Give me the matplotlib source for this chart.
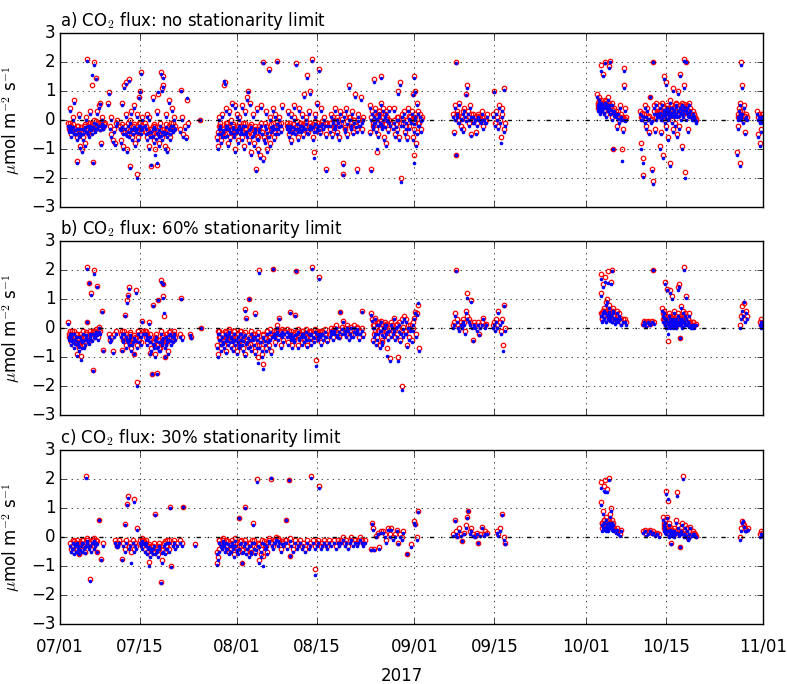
"""CO2 flux time series under three stationarity limits (Jul-Oct 2017)."""

import datetime as dt
import numpy as np
import matplotlib
matplotlib.use('Agg')
import matplotlib.pyplot as plt
import matplotlib.dates as mdates


START = dt.datetime(2017, 7, 1)
END = dt.datetime(2017, 11, 1)

TITLES = [
    'a) CO$_2$ flux: no stationarity limit',
    'b) CO$_2$ flux: 60% stationarity limit',
    'c) CO$_2$ flux: 30% stationarity limit',
]

# days since 07/01 and flux (umol m-2 s-1), red = open circles, blue = dots
t_a = [
    1.4, 1.5, 1.7, 1.9, 2.0, 2.2, 2.4, 2.5, 2.7, 2.9,
    3.0, 3.1, 3.3, 3.4, 3.5, 3.7, 3.8, 4.0, 4.2, 4.3,
    4.5, 4.6, 4.7, 4.9, 5.1, 5.2, 5.4, 5.6, 5.6, 5.7,
    5.9, 6.0, 6.1, 6.3, 6.4, 6.6, 6.8, 7.0, 7.2, 7.4,
    7.6, 7.8,
    8.4, 8.6, 8.7, 8.9, 9.0, 9.2, 9.4, 9.6, 9.8, 10.0,
    10.5, 10.7, 10.8, 11.0, 11.2, 11.3, 11.5, 11.6, 11.8, 12.0,
    12.1, 12.3, 12.4, 12.6, 12.8, 12.9, 13.1, 13.3, 13.4, 13.4,
    13.6, 13.8, 13.9, 14.0, 14.1, 14.2, 14.3, 14.4, 11.9, 12.2,
    14.9, 15.0, 15.2, 15.3, 15.5, 15.6, 15.8, 16.0, 16.1, 16.3,
    16.4, 16.6, 16.7, 16.9, 17.0, 17.1, 17.2, 17.4, 17.5, 17.6,
    17.8, 17.9, 18.0, 18.1, 18.2, 18.4, 18.5, 18.7, 18.8, 19.0,
    19.1, 19.3, 19.4, 19.6, 19.7, 19.9, 20.1, 16.2, 17.3, 18.3,
    21.0, 21.2, 21.4, 21.6, 21.8, 22.0, 22.2, 22.4, 24.5,
    27.5, 27.6, 27.8, 27.9, 28.1, 28.2, 28.4, 28.5, 28.7, 28.8,
    28.9, 29.1, 29.2, 29.4, 29.5, 29.7, 29.8, 30.0, 30.1, 30.3,
    30.4, 30.6, 30.7, 30.9, 31.0, 31.2, 31.3, 31.5, 28.0, 29.0,
    31.6, 31.8, 31.9, 32.1, 32.2, 32.4, 32.5, 32.7, 32.9, 33.0,
    33.2, 33.3, 33.5, 33.6, 33.8, 33.9, 34.1, 34.3, 34.4, 34.6,
    34.7, 34.9, 35.0, 35.2, 35.3, 35.5, 35.6, 35.8, 35.9, 36.1,
    36.2, 36.4, 36.5, 36.7, 36.8, 37.0, 37.2, 37.4, 37.6, 37.8,
    38.0, 38.1, 38.3, 38.6, 38.9,
    39.7, 39.9, 40.0, 40.2, 40.4, 40.5, 40.7, 40.9, 41.0, 41.2,
    41.3, 41.5, 41.7, 41.8, 42.0, 42.2, 42.4, 42.5, 42.7, 42.9,
    43.0, 43.2, 43.4, 43.6, 43.8, 44.0, 44.1, 44.3, 44.4, 44.6,
    44.8, 45.0, 45.1, 45.3, 45.5, 45.7, 46.0, 46.2, 46.5, 46.7,
    46.5, 47.2, 47.4, 47.6, 47.8, 48.0, 48.2, 48.4, 48.6, 48.8,
    49.0, 49.2, 49.5, 49.5, 49.7, 49.9, 50.1, 50.3, 50.5, 50.7,
    50.9, 51.1, 51.3, 51.5, 51.7, 51.9, 52.0, 52.2, 52.4, 52.6,
    52.8, 53.0, 48.1, 51.0,
    54.2, 54.3, 54.5, 54.6, 54.8, 54.9, 55.0, 55.1, 55.3, 55.4,
    55.5, 55.7, 55.8, 56.0, 56.1, 56.2, 56.4, 56.5, 56.7, 56.8,
    57.0, 57.1, 57.3, 57.4, 57.6, 57.7, 55.2, 55.9, 56.3, 56.9,
    58.3, 58.5, 58.7, 58.9, 59.0, 59.2, 59.4, 59.5, 59.7, 59.8,
    60.0, 60.2, 60.4, 60.5, 60.7, 60.9, 61.1, 61.3, 61.6, 61.7,
    61.8, 61.9, 62.0, 62.0, 62.1, 62.2, 62.3, 62.4, 62.5, 62.6,
    62.8, 63.0, 63.1, 63.3,
    68.8, 69.0, 69.2, 69.3, 69.3, 69.5, 69.7, 69.9, 70.1, 70.3,
    70.5, 70.7, 70.9, 71.0, 71.2, 71.4, 71.6, 71.8, 72.0, 72.2,
    72.4, 72.6, 72.8, 73.0, 73.2, 73.4, 73.6, 73.8, 74.0, 74.2,
    74.5, 74.7,
    75.8, 76.0, 76.1, 76.3, 76.5, 76.6, 76.8, 77.0, 77.1, 77.3,
    77.4, 77.6, 77.7, 77.9,
    94.0, 94.1, 94.2, 94.3, 94.4, 94.5, 94.6, 94.7, 94.8, 94.9,
    95.0, 95.1, 95.2, 95.3, 95.4, 95.5, 95.6, 95.7, 95.8, 95.9,
    96.0, 96.1, 96.2, 96.3, 96.5, 96.6, 96.8, 97.0, 97.2, 97.4,
    97.6, 97.8, 98.0, 98.2, 98.4, 98.5, 98.6, 98.7, 98.9, 99.1,
    101.5, 101.7, 101.8, 102.0, 102.0, 102.2, 102.4, 102.5, 102.7, 102.9,
    103.0, 103.2, 103.4, 103.5, 103.7, 103.8, 103.9, 104.0, 104.1, 104.2,
    104.3, 104.5,
    104.8, 104.9, 105.0, 105.1, 105.2, 105.3, 105.4, 105.5, 105.6, 105.7,
    105.8, 105.9, 106.0, 106.1, 106.2, 106.3, 106.4, 106.5, 106.6, 106.7,
    106.8, 106.9, 107.0, 107.1, 107.2, 107.3, 107.4, 107.5, 107.6, 107.7,
    107.8, 107.9, 108.0, 108.1, 108.2, 108.3, 108.4, 108.5, 108.6, 108.7,
    108.8, 108.9, 109.0, 109.1, 109.2, 109.3, 109.4, 109.5, 109.6, 109.7,
    109.8, 109.9, 110.0, 110.1, 110.3, 110.5, 110.7, 110.9, 111.1, 111.3,
    118.5, 118.6, 118.7, 118.8, 118.9, 119.0, 119.1, 119.2, 119.3, 119.4,
    119.6, 119.8, 120.0, 120.2,
    122.0, 122.1, 122.3, 122.4, 122.6, 122.7, 122.9, 123.0,
]
red_a = [
    -0.1, -0.3, 0.4, -0.2, -0.5, 0.1, -0.3, 0.7, -0.4, -0.6,
    -1.4, -0.2, -0.5, 0.2, -0.9, -0.4, -1.0, -0.6, -0.2, -0.8,
    0.1, -0.3, 2.1, -0.1, -0.5, 0.3, -0.2, 1.2, -0.4, -1.45,
    0.0, 2.0, -0.3, 1.45, 0.3, -0.1, 0.5, 0.6, -0.8, 0.1,
    -0.2, -0.1,
    0.6, 0.95, -0.2, -0.5, 0.1, -0.7, -0.3, -0.8, -0.1, 0.0,
    -0.2, -0.7, 0.6, -0.9, 1.2, -0.4, 1.3, 0.2, -1.0, 1.4,
    -0.5, -1.6, 0.3, -0.6, -0.2, 0.5, -0.8, -0.3, -1.85, 0.2,
    -0.6, 0.8, -0.1, 1.0, 1.65, -0.4, 0.1, -0.2, -0.3, 0.0,
    -0.1, -0.4, 0.2, -0.6, -0.9, 0.1, -0.3, -1.6, -0.5, 0.8,
    -0.7, -0.2, -1.0, 0.3, -1.55, -0.4, 0.9, -0.8, -0.1, 1.65,
    -0.6, 1.1, 1.2, 1.5, -0.3, -0.9, 0.2, -0.5, -1.0, -0.2,
    0.7, -0.6, -0.1, 0.4, -0.3, 0.1, -0.2, -0.2, -0.5, -0.4,
    -0.3, 1.05, 0.1, -0.5, -0.2, -0.6, 0.7, -0.1, 0.0,
    -0.6, -0.9, -0.2, 0.1, -0.4, -0.7, 0.2, -0.3, 1.2, 1.3,
    -0.5, 0.4, -0.1, -0.8, 0.3, -0.3, -0.6, 0.0, 0.6, -0.2,
    -0.5, 0.5, -1.0, -0.3, 0.2, -0.7, 0.1, -0.4, -0.1, -0.2,
    -0.3, 0.5, -0.6, -0.1, -0.9, 0.3, -0.4, 0.8, 1.0, -0.7,
    -0.2, 0.6, -1.1, -0.5, 0.2, -0.8, -0.3, -1.7, 0.4, -0.6,
    -1.0, -0.2, -1.2, 0.5, -0.4, 2.0, -1.3, -0.1, -0.7, 0.3,
    -1.0, -0.5, 1.75, 0.1, -0.8, -0.3, 0.4, -0.6, 0.2, -0.2,
    2.05, -0.4, 0.1, -0.3, 0.5,
    -0.2, 0.3, -0.5, -0.1, 0.2, -0.7, -0.3, 0.1, 0.5, -0.4,
    1.95, -0.2, -0.6, 0.4, -0.1, -0.3, 0.2, -0.5, 0.9, -0.2,
    0.1, 1.55, -0.4, 0.3, 1.0, -0.2, 2.1, -0.6, -1.1, 0.2,
    -0.3, 0.6, -0.1, 1.75, -0.4, 0.4, -0.2, 0.1, -0.5, -0.1,
    -1.7, -0.3, 0.2, -0.5, 0.1, -0.2, 0.4, -0.4, 0.0, -0.6,
    0.3, -0.1, -1.5, -1.85, 0.2, -0.3, 0.4, -0.5, 1.2, 0.1,
    -0.2, 0.3, -0.4, 0.0, 0.9, -0.3, -1.7, 0.2, -0.1, 0.8,
    -0.3, 0.1, -0.1, -0.2,
    0.5, -0.4, -1.7, 0.3, -0.1, 0.2, 1.4, 0.4, -0.3, -1.1,
    0.1, -0.5, 0.3, 0.0, 1.5, 0.6, -0.2, 0.4, -0.6, 0.2,
    -0.8, 0.3, 0.1, -0.3, 0.4, -0.1, 0.0, 0.3, -0.1, 0.2,
    -0.2, 0.4, -0.5, 0.1, -0.3, 1.0, -0.6, 1.3, -2.0, 0.2,
    -0.1, 0.3, -0.4, 0.0, -0.6, 0.4, -0.2, 0.1, 0.3, -0.6,
    0.9, -0.3, -1.2, 1.5, 1.0, 0.2, -0.8, 0.6, -0.4, 0.3,
    -0.1, 0.2, -0.3, 0.1,
    0.2, -0.4, 0.5, 2.0, -1.2, 0.3, 0.0, 0.6, -0.2, 0.1,
    -0.3, 0.4, 0.2, 0.9, 1.2, 0.3, -0.1, 0.5, -0.5, 0.2,
    0.0, 0.1, -0.4, -0.1, 0.2, 0.1, 0.0, 0.3, -0.2, 0.1,
    0.0, 0.2,
    0.2, 1.0, -0.1, 0.3, 0.1, -0.2, 0.5, 0.0, -0.6, 0.4,
    0.2, -0.3, 1.1, -0.1,
    0.9, 0.6, 0.4, 0.8, 0.5, 0.3, 1.9, 0.7, 0.4, 0.6,
    1.6, 0.5, 0.3, 2.0, 0.7, 0.6, 0.2, 0.5, 0.4, 0.8,
    1.85, 0.5, 2.05, 0.3, 0.6, 0.1, -1.0, 0.4, 0.2, -0.2,
    0.3, 0.0, 0.5, 0.1, -1.0, -0.3, 1.8, 1.2, 0.4, 0.1,
    0.3, -0.8, 0.1, -1.3, -1.9, 0.2, 0.5, -0.2, 0.4, 0.1,
    -0.4, 0.8, 0.0, -1.7, -2.1, 2.0, 0.5, 0.3, -0.3, 0.6,
    0.1, 0.2,
    0.3, -0.9, 0.5, 0.1, -0.4, 0.6, 0.2, -1.2, 0.4, 1.5,
    0.0, 0.3, 1.3, -0.2, 0.5, 0.1, -0.6, 0.4, 0.2, 0.7,
    -1.5, 0.3, 0.0, 0.5, -0.3, 1.1, 0.2, 0.4, -0.1, 0.6,
    0.3, -0.5, 0.2, 1.0, 0.4, -0.2, 0.5, 1.6, 0.1, 0.3,
    -0.9, 0.6, 0.2, 1.2, 2.1, -1.8, 0.4, 2.0, 0.1, 0.5,
    0.3, -0.3, 0.6, 0.2, 0.4, 0.1, 0.3, 0.2, 0.1, 0.0,
    -1.1, 0.2, -0.2, 0.4, -1.5, 0.6, 0.1, 2.0, 0.3, 1.2,
    0.5, -0.4, 0.2, 0.1,
    0.3, -0.5, 0.2, -0.8, 0.1, -0.3, 0.2, 0.0,
]
blue_a = [
    -0.2, -0.4, 0.3, -0.3, -0.6, 0.0, -0.5, 0.6, -0.5, -0.7,
    -1.5, -0.3, -0.6, 0.1, -0.95, -0.5, -1.1, -0.7, -0.3, -0.9,
    0.0, -0.4, 2.05, -0.2, -0.6, 0.2, -0.3, 1.55, -0.5, -1.5,
    -0.1, 1.9, -0.4, 1.4, 0.2, -0.2, 0.4, 0.55, -0.85, 0.0,
    -0.3, -0.2,
    0.5, 0.9, -0.3, -0.6, 0.0, -0.75, -0.4, -0.85, -0.2, -0.1,
    -0.3, -0.8, 0.5, -1.0, 1.1, -0.5, 1.25, 0.1, -1.1, 1.35,
    -0.6, -1.65, 0.2, -0.7, -0.3, 0.4, -0.9, -0.4, -2.0, 0.1,
    -0.7, 0.75, -0.2, 0.95, 1.6, -0.5, 0.0, -0.3, -0.4, -0.1,
    -0.2, -0.5, 0.1, -0.7, -1.0, 0.0, -0.4, -1.55, -0.6, 0.7,
    -0.8, -0.3, -1.2, 0.2, -1.5, -0.5, 0.95, -0.9, -0.2, 1.6,
    -0.7, 1.0, 1.15, 1.45, -0.4, -1.0, 0.1, -0.6, -1.1, -0.3,
    0.6, -0.7, -0.2, 0.3, -0.4, 0.0, -0.3, -0.3, -0.6, -0.5,
    -0.4, 1.0, 0.0, -0.6, -0.3, -0.65, 0.75, -0.2, 0.0,
    -0.7, -1.0, -0.3, 0.0, -0.5, -0.8, 0.1, -0.4, 1.35, 1.25,
    -0.6, 0.3, -0.2, -0.9, 0.2, -0.4, -0.7, -0.1, 0.5, -0.3,
    -0.6, 0.4, -1.1, -0.4, 0.1, -0.8, 0.0, -0.5, -0.2, -0.3,
    -0.4, 0.4, -0.7, -0.2, -1.0, 0.2, -0.5, 0.7, 0.95, -0.8,
    -0.3, 0.5, -1.2, -0.6, 0.1, -0.9, -0.4, -1.75, 0.3, -0.7,
    -1.1, -0.3, -1.3, 0.4, -0.5, 1.95, -1.4, -0.2, -0.8, 0.2,
    -1.1, -0.6, 1.7, 0.0, -0.9, -0.4, 0.3, -0.7, 0.1, -0.3,
    2.0, -0.5, 0.0, -0.4, 0.4,
    -0.3, 0.2, -0.6, -0.2, 0.1, -0.8, -0.4, 0.0, 0.4, -0.5,
    1.9, -0.3, -0.7, 0.3, -0.2, -0.4, 0.1, -0.6, 0.8, -0.3,
    0.0, 1.45, -0.5, 0.2, 0.9, -0.3, 2.05, -0.7, -1.3, 0.1,
    -0.4, 0.5, -0.2, 1.7, -0.5, 0.3, -0.3, 0.0, -0.6, -0.2,
    -1.75, -0.4, 0.1, -0.6, 0.0, -0.3, 0.3, -0.5, -0.1, -0.7,
    0.2, -0.2, -1.55, -1.9, 0.1, -0.4, 0.3, -0.6, 1.1, 0.0,
    -0.3, 0.2, -0.5, -0.1, 0.8, -0.4, -1.8, 0.1, -0.2, 0.7,
    -0.4, 0.0, -0.2, -0.3,
    0.4, -0.5, -1.75, 0.2, -0.2, 0.1, 1.3, 0.3, -0.4, -1.0,
    0.0, -0.6, 0.2, -0.1, 1.45, 0.5, -0.3, 0.3, -0.7, 0.1,
    -0.9, 0.2, 0.0, -0.4, 0.3, -0.2, -0.1, 0.2, -0.2, 0.1,
    -0.3, 0.3, -0.6, 0.0, -0.4, 0.9, -0.7, 1.2, -2.15, 0.1,
    -0.2, 0.2, -0.5, -0.1, -0.7, 0.3, -0.3, 0.0, 0.2, -0.7,
    0.85, -0.4, -1.5, 1.45, 0.95, 0.1, -0.9, 0.5, -0.5, 0.2,
    -0.2, 0.1, -0.4, 0.0,
    0.1, -0.5, 0.4, 1.95, -1.2, 0.2, -0.1, 0.5, -0.3, 0.0,
    -0.4, 0.3, 0.1, 0.85, 1.1, 0.2, -0.2, 0.4, -0.55, 0.1,
    -0.1, 0.0, -0.5, -0.2, 0.1, 0.0, -0.1, 0.2, -0.3, 0.0,
    -0.1, 0.1,
    0.1, 0.95, -0.2, 0.2, 0.0, -0.3, 0.4, -0.1, -0.8, 0.3,
    0.1, -0.4, 1.05, -0.2,
    0.8, 0.5, 0.3, 0.7, 0.4, 0.2, 1.7, 0.6, 0.3, 0.5,
    1.5, 0.4, 0.2, 1.95, 0.6, 0.5, 0.1, 0.4, 0.3, 0.7,
    1.8, 0.4, 2.0, 0.2, 0.5, 0.0, -1.0, 0.3, 0.1, -0.3,
    0.2, -0.1, 0.4, 0.0, -1.4, -0.4, 1.7, 1.1, 0.3, 0.0,
    0.2, -1.0, 0.0, -1.5, -1.95, 0.1, 0.4, -0.3, 0.3, 0.0,
    -0.5, 0.8, -0.1, -1.75, -2.2, 2.0, 0.4, 0.2, -0.4, 0.5,
    0.0, 0.1,
    0.2, -1.0, 0.4, 0.0, -0.5, 0.5, 0.1, -1.3, 0.3, 1.4,
    -0.1, 0.2, 1.2, -0.3, 0.4, 0.0, -0.7, 0.3, 0.1, 0.6,
    -1.6, 0.2, -0.1, 0.4, -0.4, 1.0, 0.1, 0.3, -0.2, 0.5,
    0.2, -0.6, 0.1, 0.9, 0.3, -0.3, 0.4, 1.5, 0.0, 0.2,
    -1.0, 0.5, 0.1, 1.1, 2.05, -2.0, 0.3, 2.0, 0.0, 0.4,
    0.2, -0.4, 0.5, 0.1, 0.3, 0.0, 0.2, 0.1, 0.0, -0.1,
    -1.2, 0.1, -0.3, 0.3, -1.6, 0.5, 0.0, 1.9, 0.2, 1.1,
    0.4, -0.5, 0.1, 0.0,
    0.2, -0.6, 0.1, -0.9, 0.0, -0.4, 0.1, -0.1,
]
# dense core of each cluster in panel a
t_a_core = [
    1.55, 1.8, 2.1, 2.3, 2.6, 2.8, 3.05, 3.25, 3.55, 3.75,
    3.95, 4.15, 4.4, 4.65, 4.85, 5.05, 5.3, 5.5, 5.8, 6.05,
    6.25, 6.5, 6.7, 6.95, 7.15, 7.35, 7.55, 7.75,
    10.6, 10.9, 11.1, 11.4, 11.7, 11.9, 12.2, 12.5, 12.7, 13.0,
    13.2, 13.5, 13.7, 14.0, 14.2, 14.4,
    15.1, 15.4, 15.7, 15.9, 16.2, 16.5, 16.8, 17.0, 17.3, 17.6,
    17.9, 18.2, 18.5, 18.8, 19.0, 19.2, 19.5, 19.8, 20.0,
    27.7, 28.0, 28.3, 28.6, 29.0, 29.3, 29.6, 29.9, 30.2, 30.5,
    30.8, 31.1, 31.4,
    31.7, 32.0, 32.3, 32.6, 32.8, 33.1, 33.4, 33.7, 34.0, 34.2,
    34.5, 34.8, 35.1, 35.4, 35.7, 36.0, 36.3, 36.6, 36.9, 37.1,
    37.3, 37.5, 37.7, 37.9, 38.2, 38.4, 38.7,
    39.8, 40.1, 40.3, 40.6, 40.8, 41.1, 41.4, 41.6, 41.9, 42.1,
    42.3, 42.6, 42.8, 43.1, 43.3, 43.5, 43.7, 43.9, 44.2, 44.5,
    44.7, 44.9, 45.2, 45.4, 45.6, 45.9, 46.1, 46.4,
    47.3, 47.7, 48.1, 48.5, 48.9, 49.3, 49.8, 50.2, 50.6, 51.0,
    51.4, 51.8, 52.1, 52.5, 52.9,
    54.4, 54.7, 55.0, 55.3, 55.6, 55.9, 56.2, 56.6, 56.9, 57.2, 57.5,
    58.4, 58.8, 59.1, 59.6, 60.1, 60.6, 61.0, 61.4, 61.9, 62.2, 62.7, 63.2,
    69.1, 69.4, 69.8, 70.2, 70.6, 71.1, 71.5, 71.9, 72.3, 72.7,
    73.1, 73.5, 73.9, 74.3,
    94.05, 94.25, 94.45, 94.65, 94.85, 95.05, 95.25, 95.45, 95.65, 95.85,
    96.05, 96.25, 96.45, 96.7, 96.95, 97.3, 97.7, 98.1, 98.45, 98.8,
    101.6, 101.9, 102.3, 102.6, 103.1, 103.6, 104.4,
    104.85, 105.05, 105.25, 105.45, 105.65, 105.85, 106.05, 106.25, 106.45, 106.65,
    106.85, 107.05, 107.25, 107.45, 107.65, 107.85, 108.05, 108.25, 108.45, 108.65,
    108.85, 109.05, 109.25, 109.45, 109.65, 109.85, 110.05, 110.4, 110.8, 111.2,
    118.6, 118.9, 119.2, 119.5, 119.9,
    122.2, 122.5, 122.8,
]
red_a_core = [
    -0.25, -0.1, -0.35, -0.15, -0.3, -0.45, -0.2, -0.35, -0.5, -0.25,
    -0.4, -0.3, -0.15, -0.35, -0.45, -0.2, -0.1, -0.3, -0.15, -0.25,
    -0.05, -0.2, -0.1, -0.3, -0.15, -0.05, -0.25, -0.15,
    -0.3, -0.15, -0.4, -0.2, -0.5, -0.1, -0.35, -0.25, -0.45, -0.15,
    -0.3, -0.2, -0.4, -0.1, -0.3, -0.2,
    -0.2, -0.35, -0.5, -0.3, -0.45, -0.15, -0.6, -0.35, -0.25, -0.5,
    -0.3, -0.4, -0.15, -0.35, -0.2, -0.45, -0.25, -0.1, -0.3,
    -0.4, -0.2, -0.5, -0.3, -0.1, -0.45, -0.25, -0.35, -0.15, -0.4,
    -0.3, -0.2, -0.1,
    -0.2, -0.4, -0.1, -0.3, -0.5, -0.25, -0.15, -0.45, -0.35, -0.2,
    -0.55, -0.3, -0.1, -0.4, -0.6, -0.2, -0.35, -0.5, -0.15, -0.3,
    -0.1, -0.25, -0.4, -0.05, -0.2, -0.15, -0.1,
    -0.1, -0.3, -0.2, -0.4, -0.15, -0.25, -0.05, -0.35, -0.2, -0.1,
    -0.3, -0.15, -0.25, -0.05, -0.35, -0.2, -0.1, -0.25, -0.15, -0.3,
    -0.05, -0.2, -0.1, -0.3, -0.15, -0.05, -0.2, -0.1,
    -0.1, 0.0, -0.2, 0.1, -0.15, 0.05, -0.25, -0.05, 0.1, -0.1,
    0.0, -0.2, 0.05, -0.1, 0.0,
    0.1, -0.2, 0.0, 0.15, -0.1, 0.2, -0.05, 0.1, -0.15, 0.05, 0.0,
    0.0, -0.15, 0.1, -0.1, 0.05, -0.2, 0.15, 0.0, -0.05, 0.1, -0.1, 0.05,
    0.1, 0.2, 0.0, 0.15, 0.3, 0.05, 0.1, 0.2, 0.0, 0.1,
    0.15, 0.05, 0.1, 0.0,
    0.5, 0.7, 0.4, 0.6, 0.45, 0.55, 0.35, 0.65, 0.5, 0.4,
    0.6, 0.3, 0.45, 0.35, 0.25, 0.3, 0.15, 0.2, 0.1, 0.05,
    0.1, 0.25, 0.0, 0.2, 0.15, 0.05, 0.3,
    0.2, 0.35, 0.1, 0.3, 0.45, 0.25, 0.15, 0.4, 0.3, 0.2,
    0.5, 0.35, 0.25, 0.45, 0.3, 0.55, 0.4, 0.25, 0.5, 0.35,
    0.45, 0.3, 0.55, 0.4, 0.35, 0.25, 0.3, 0.2, 0.1, 0.05,
    0.1, 0.3, 0.2, 0.0, 0.15,
    0.1, 0.0, 0.2,
]
blue_a_core = [
    -0.3, -0.2, -0.4, -0.25, -0.35, -0.5, -0.3, -0.45, -0.55, -0.3,
    -0.5, -0.35, -0.25, -0.4, -0.5, -0.3, -0.2, -0.35, -0.25, -0.3,
    -0.15, -0.3, -0.2, -0.35, -0.2, -0.15, -0.3, -0.2,
    -0.35, -0.25, -0.5, -0.3, -0.55, -0.2, -0.4, -0.3, -0.5, -0.25,
    -0.35, -0.3, -0.45, -0.2, -0.35, -0.25,
    -0.3, -0.45, -0.6, -0.4, -0.55, -0.25, -0.65, -0.45, -0.35, -0.55,
    -0.4, -0.5, -0.25, -0.45, -0.3, -0.5, -0.35, -0.2, -0.35,
    -0.5, -0.3, -0.6, -0.35, -0.2, -0.55, -0.3, -0.45, -0.25, -0.5,
    -0.35, -0.3, -0.2,
    -0.3, -0.5, -0.2, -0.4, -0.6, -0.35, -0.25, -0.55, -0.45, -0.3,
    -0.65, -0.4, -0.2, -0.5, -0.7, -0.3, -0.45, -0.6, -0.25, -0.35,
    -0.2, -0.3, -0.5, -0.15, -0.3, -0.2, -0.2,
    -0.2, -0.4, -0.3, -0.45, -0.25, -0.3, -0.15, -0.4, -0.3, -0.2,
    -0.35, -0.25, -0.3, -0.15, -0.45, -0.3, -0.2, -0.3, -0.25, -0.4,
    -0.15, -0.3, -0.2, -0.35, -0.2, -0.15, -0.3, -0.2,
    -0.2, -0.1, -0.3, 0.0, -0.25, -0.05, -0.3, -0.15, 0.0, -0.2,
    -0.1, -0.25, -0.05, -0.2, -0.1,
    0.0, -0.3, -0.1, 0.05, -0.2, 0.1, -0.15, 0.0, -0.25, -0.05, -0.1,
    -0.1, -0.25, 0.0, -0.2, -0.05, -0.3, 0.05, -0.1, -0.15, 0.0, -0.2, -0.05,
    0.0, 0.1, -0.1, 0.05, 0.2, -0.05, 0.0, 0.1, -0.1, 0.0,
    0.05, -0.05, 0.0, -0.1,
    0.4, 0.6, 0.3, 0.5, 0.35, 0.45, 0.25, 0.55, 0.4, 0.3,
    0.5, 0.2, 0.35, 0.25, 0.15, 0.2, 0.05, 0.1, 0.0, -0.05,
    0.0, 0.15, -0.1, 0.1, 0.05, -0.05, 0.2,
    0.1, 0.25, 0.0, 0.2, 0.35, 0.15, 0.05, 0.3, 0.2, 0.1,
    0.4, 0.25, 0.15, 0.35, 0.2, 0.45, 0.3, 0.15, 0.4, 0.25,
    0.35, 0.2, 0.45, 0.3, 0.25, 0.15, 0.2, 0.1, 0.0, -0.05,
    0.0, 0.2, 0.1, -0.1, 0.05,
    0.0, -0.1, 0.1,
]

t_b = [
    1.4, 1.5, 1.7, 1.9, 2.0, 2.2, 2.4, 2.5, 2.7, 2.9,
    3.0, 3.2, 3.4, 3.5, 3.7, 3.9, 4.0, 4.2, 4.3, 4.5,
    4.7, 4.7, 4.9, 5.1, 5.2, 5.4, 5.5, 5.7, 5.9, 6.0,
    6.2, 6.4, 6.6, 6.9, 7.3, 7.6,
    8.6, 8.8, 9.0, 9.2, 9.5, 9.8,
    10.7, 10.9, 11.0, 11.2, 11.4, 11.5, 11.7, 11.8, 11.9, 12.1,
    12.1, 12.3, 12.5, 12.7, 12.9, 13.1, 13.3, 13.4, 13.4, 13.6,
    13.8, 14.0, 14.1, 14.3, 14.5, 12.0,
    14.9, 15.0, 15.2, 15.3, 15.5, 15.7, 15.8, 16.0, 16.1, 16.3,
    16.4, 16.6, 16.7, 16.9, 17.0, 17.2, 17.3, 17.5, 17.6, 17.8,
    17.9, 18.0, 18.0, 18.2, 18.3, 18.4, 18.6, 18.7, 18.9, 19.1,
    19.2, 19.4, 19.6, 19.8, 20.0, 20.2, 16.8, 17.7,
    21.0, 21.2, 21.4, 22.8, 23.0, 24.6,
    27.5, 27.6, 27.8, 27.9, 28.1, 28.2, 28.4, 28.5, 28.7, 28.8,
    29.0, 29.1, 29.3, 29.4, 29.6, 29.7, 29.9, 30.0, 30.2, 30.3,
    30.5, 30.6, 30.8, 30.9, 31.1, 31.2, 31.4, 31.5, 31.7, 31.8,
    32.0, 32.1, 32.3, 32.4, 32.6, 32.7, 32.9, 33.0, 33.3, 33.5,
    33.7, 33.9, 34.1, 34.2, 34.4, 34.6, 34.8, 34.9, 35.1, 35.3,
    35.5, 35.6, 35.8, 36.0, 36.2, 36.4, 36.6, 36.8, 37.0, 37.2,
    37.4, 37.6, 37.8, 38.0, 38.2, 38.4, 38.6, 38.8, 39.0, 39.2,
    39.7, 39.9, 40.1, 40.3, 40.5, 40.6, 40.8, 41.0, 41.2, 41.3,
    41.5, 41.7, 41.9, 42.1, 42.3, 42.5, 42.7, 42.9, 43.1, 43.3,
    43.5, 43.7, 43.9, 44.1, 44.3, 44.5, 44.8, 45.0, 45.2, 45.3,
    45.5, 45.7, 45.9, 46.1, 46.4, 46.7,
    47.3, 47.5, 47.8, 48.0, 48.3, 48.5, 48.8, 49.0, 49.3, 49.5,
    49.8, 50.0, 50.3, 50.5, 50.8, 51.0, 51.3, 51.5, 51.8, 52.0,
    52.3, 52.5, 52.8, 53.0,
    54.5, 54.6, 54.7, 54.9, 55.0, 55.1, 55.3, 55.4, 55.5, 55.7,
    55.8, 56.0, 56.1, 56.2, 56.4, 56.5, 56.7, 56.8, 57.0, 57.1,
    57.3, 57.4, 57.6, 57.7, 57.9, 56.3,
    58.0, 58.2, 58.4, 58.6, 58.8, 59.0, 59.1, 59.3, 59.5, 59.6,
    59.8, 59.8, 60.0, 60.2, 60.4, 60.5, 60.7, 60.9, 61.1, 61.3,
    61.6, 61.8, 62.0, 62.1, 62.3, 62.5, 62.6, 62.8,
    68.8, 69.0, 69.2, 69.3, 69.5, 69.7, 69.9, 70.1, 70.3, 70.5,
    70.7, 70.9, 71.0, 71.2, 71.3, 71.5, 71.7, 71.9, 72.1, 72.3,
    72.5, 72.7, 72.9, 73.1, 73.3, 73.5, 73.8, 74.0, 74.3, 74.6,
    75.7, 75.9, 76.1, 76.3, 76.5, 76.7, 76.9, 77.1, 77.3, 77.5,
    77.7, 77.9,
    94.6, 94.7, 94.8, 94.9, 95.0, 95.1, 95.2, 95.3, 95.4, 95.5,
    95.6, 95.7, 95.8, 95.9, 96.0, 96.1, 96.2, 96.3, 96.4, 96.5,
    96.6, 96.7, 96.8, 97.0, 97.2, 97.5, 97.8, 98.0, 98.2, 98.5,
    98.8, 99.0, 95.0, 96.4,
    102.0, 102.2, 102.4, 102.6, 102.8, 103.0, 103.2, 103.5, 103.8, 104.0,
    105.4, 105.5, 105.6, 105.7, 105.8, 105.9, 106.0, 106.1, 106.2, 106.3,
    106.4, 106.5, 106.6, 106.7, 106.8, 106.9, 107.0, 107.1, 107.2, 107.3,
    107.4, 107.5, 107.6, 107.7, 107.8, 107.9, 108.0, 108.1, 108.2, 108.3,
    108.4, 108.5, 108.6, 108.7, 108.8, 108.9, 109.0, 109.1, 109.2, 109.3,
    109.4, 109.5, 109.6, 109.8, 110.0, 110.2, 110.5, 110.8, 111.0, 111.3,
    119.0, 119.2, 119.3, 119.5, 119.6, 119.8, 120.0, 120.2,
    122.4, 122.6, 122.7, 122.9, 123.0,
]
red_b = [
    0.2, -0.3, -0.1, -0.5, -0.2, -0.4, -0.1, -0.6, -0.3, -0.2,
    -0.9, -0.5, -0.7, -0.2, -0.95, -0.4, -0.1, -0.6, -0.3, -0.2,
    2.1, 0.2, -0.4, 1.55, -0.1, -0.3, 1.2, -1.45, -0.2, 2.0,
    -0.1, 1.45, -0.3, 0.05, 0.6, -0.75,
    -0.2, -0.4, -0.3, -0.8, -0.2, -0.1,
    -0.2, -0.75, -0.4, -0.1, 0.45, -0.6, -0.3, 0.95, 1.15, 1.4,
    -0.5, -0.2, -0.7, -0.4, -0.9, -0.3, 1.3, -1.85, -0.6, -0.1,
    -0.4, -0.2, -0.5, 0.25, -0.1, -0.3,
    -0.1, -0.3, -0.2, -0.5, 0.2, -0.85, -0.4, -0.7, -1.6, 0.8,
    -0.5, -0.3, -0.9, -0.6, -1.55, 0.95, -0.4, -0.7, 1.65, -0.3,
    -0.5, 1.1, 1.5, 0.4, -0.6, -1.0, -0.2, -0.4, -0.8, -0.3,
    -0.1, -0.5, -0.2, -0.4, -0.1, -0.3, -0.2, -0.1,
    -0.2, 1.05, -0.3, -0.2, -0.3, 0.0,
    -0.6, -0.9, -0.3, -0.1, -0.5, -0.7, -0.2, -0.4, -0.6, -0.1,
    -0.3, -0.8, -0.2, -0.5, -0.1, -0.4, -0.6, -0.2, -0.3, -0.7,
    -0.1, -0.5, -0.3, -0.8, -0.2, -0.4, -0.6, -0.1, -0.3, -0.5,
    -0.7, -0.2, -0.9, 0.65, 0.35, -0.4, -0.6, 1.0, -0.3, -0.7,
    -0.2, -0.5, -0.8, 0.5, -0.3, -1.0, -0.6, 2.0, -0.4, -0.9,
    -1.25, -0.2, -0.5, -0.7, -0.1, -0.4, -0.6, -0.3, -0.8, 2.05,
    -0.2, -0.5, -0.1, 0.1, -0.3, 0.35, -0.6, -0.2, -0.4, -0.1,
    -0.2, -0.5, -0.1, 0.55, -0.3, -0.6, -0.2, -0.4, 0.45, 1.95,
    -0.1, -0.6, -0.3, -0.2, -0.5, -0.1, -0.4, -0.2, -0.3, -0.6,
    -0.1, -0.3, -0.5, 2.1, -0.2, -0.4, -1.1, -0.1, -0.3, 1.75,
    -0.2, -0.5, -0.1, -0.3, -0.2, -0.4,
    -0.2, 0.0, -0.3, -0.1, 0.1, -0.2, -0.3, 0.55, -0.1, 0.25,
    0.0, -0.2, 0.1, -0.3, -0.1, 0.05, -0.2, 0.1, -0.1, 0.0,
    -0.3, -0.1, 0.6, -0.2,
    0.5, 0.3, -0.4, 0.1, -0.2, 0.35, -0.5, 0.2, -0.3, -0.1,
    0.2, -0.6, 0.0, 0.25, -0.4, 0.1, -0.2, 0.2, -0.1, 0.15,
    -0.7, -0.3, 0.0, -1.05, -0.2, -0.5,
    0.2, -0.1, 0.35, -0.3, 0.1, -0.2, -1.0, 0.2, -0.4, -0.1,
    -2.0, 0.3, -0.2, 0.4, -0.1, 0.3, -0.6, 0.1, -0.3, 0.0,
    -0.4, 0.2, 0.35, 0.55, -0.2, 0.5, 0.8, -0.7,
    0.1, 0.2, 0.5, 2.0, 0.3, 0.1, 0.0, 0.2, 0.1, 0.3,
    0.2, -0.1, 0.6, 1.2, 0.4, 0.3, 0.2, 0.95, 0.1, -0.4,
    0.2, 0.1, 0.0, 0.2, -0.2, 0.1, 0.2, 0.35, 0.1, 0.15,
    0.1, 0.2, 0.0, 0.3, 0.1, 0.6, 0.2, -0.1, 0.3, -0.6,
    0.8, 0.0,
    1.85, 1.2, 0.5, 0.3, 1.5, 0.7, 0.4, 0.6, 1.75, 0.9,
    0.3, 1.0, 0.5, 1.95, 0.6, 0.8, 0.4, 0.5, 1.6, 2.0,
    0.3, 0.7, 0.6, 0.4, 0.3, 0.6, 0.5, 0.35, 0.2, 0.3,
    0.3, 0.2, 0.6, 0.5,
    0.15, 0.25, 0.2, 0.1, 0.25, 0.2, 0.15, 0.25, 2.0, 0.2,
    0.7, 0.5, 0.3, 0.6, 0.2, 1.6, 0.4, 0.1, 1.35, -0.45,
    0.3, 0.2, 0.5, 0.1, 1.3, 0.3, 1.1, 0.2, 0.4, 0.1,
    0.3, 0.6, 0.2, 0.1, 0.4, 0.3, 0.2, 1.4, 0.5, 1.5,
    0.3, -0.35, 0.2, 0.75, 0.4, 0.1, 0.6, 2.1, 0.3, 0.5,
    0.2, 1.1, 0.4, 0.3, 0.5, 0.2, 0.1, 0.2, 0.1, 0.15,
    0.1, 0.4, 0.75, 0.5, 0.85, 0.3, 0.6, 0.4,
    0.2, 0.1, 0.3, 0.15, 0.2,
]
blue_b = [
    0.15, -0.4, -0.2, -0.6, -0.3, -0.5, -0.2, -0.7, -0.4, -0.3,
    -0.95, -0.6, -0.8, -0.3, -1.1, -0.5, -0.2, -0.7, -0.4, -0.3,
    2.05, 0.2, -0.5, 1.55, -0.2, -0.4, 1.15, -1.5, -0.3, 1.85,
    -0.2, 1.4, -0.4, 0.0, 0.55, -0.8,
    -0.3, -0.5, -0.4, -0.85, -0.3, -0.2,
    -0.3, -0.8, -0.5, -0.2, 0.4, -0.7, -0.4, 0.85, 1.1, 1.35,
    -0.6, -0.3, -0.8, -0.5, -0.9, -0.4, 1.2, -2.0, -0.7, -0.2,
    -0.5, -0.3, -0.6, 0.2, -0.2, -0.4,
    -0.2, -0.4, -0.3, -0.6, 0.15, -0.9, -0.5, -0.8, -1.6, 0.75,
    -0.6, -0.4, -1.0, -0.7, -1.6, 0.95, -0.5, -0.8, 1.6, -0.4,
    -0.6, 1.05, 1.5, 0.5, -0.7, -1.0, -0.3, -0.5, -0.9, -0.4,
    -0.2, -0.6, -0.3, -0.5, -0.2, -0.4, -0.3, -0.2,
    -0.3, 1.0, -0.4, -0.25, -0.35, 0.0,
    -0.7, -1.0, -0.4, -0.2, -0.6, -0.8, -0.3, -0.5, -0.7, -0.2,
    -0.4, -0.85, -0.3, -0.6, -0.2, -0.5, -0.7, -0.3, -0.4, -0.8,
    -0.2, -0.6, -0.4, -0.9, -0.3, -0.5, -0.7, -0.2, -0.4, -0.6,
    -0.8, -0.3, -0.95, 0.6, 0.3, -0.5, -0.7, 1.0, -0.4, -0.8,
    -0.3, -0.6, -0.9, 0.45, -0.4, -1.2, -0.7, 1.9, -0.5, -1.0,
    -1.4, -0.3, -0.6, -0.8, -0.2, -0.5, -0.7, -0.4, -0.9, 2.05,
    -0.3, -0.6, -0.2, 0.0, -0.4, 0.3, -0.7, -0.3, -0.5, -0.2,
    -0.3, -0.6, -0.2, 0.5, -0.4, -0.7, -0.3, -0.5, 0.4, 1.95,
    -0.2, -0.7, -0.4, -0.3, -0.6, -0.2, -0.5, -0.3, -0.4, -0.65,
    -0.2, -0.4, -0.6, 2.05, -0.3, -0.5, -1.3, -0.2, -0.4, 1.7,
    -0.3, -0.6, -0.2, -0.4, -0.3, -0.5,
    -0.3, -0.1, -0.4, -0.2, 0.0, -0.3, -0.35, 0.55, -0.2, 0.2,
    -0.1, -0.3, 0.0, -0.4, -0.2, 0.0, -0.3, 0.0, -0.2, -0.1,
    -0.4, -0.2, 0.55, -0.3,
    0.45, 0.25, -0.5, 0.0, -0.3, 0.3, -0.6, 0.1, -0.4, -0.2,
    0.1, -0.7, -0.1, 0.2, -0.5, 0.0, -0.3, 0.1, -0.2, 0.1,
    -0.95, -0.4, -0.1, -1.15, -0.3, -0.6,
    0.1, -0.2, 0.3, -0.4, 0.0, -0.3, -1.15, 0.1, -0.5, -0.2,
    -2.15, 0.2, -0.3, 0.3, -0.2, 0.2, -0.65, 0.0, -0.4, -0.1,
    -0.5, 0.1, 0.3, 0.5, -0.3, 0.45, 0.85, -0.8,
    0.0, 0.1, 0.4, 1.95, 0.2, 0.0, -0.1, 0.1, 0.0, 0.2,
    0.1, -0.2, 0.5, 1.05, 0.3, 0.2, 0.1, 0.9, 0.0, -0.45,
    0.1, 0.0, -0.1, 0.1, -0.25, 0.0, 0.1, 0.3, 0.0, 0.1,
    0.0, 0.1, -0.1, 0.2, 0.0, 0.5, 0.1, -0.2, 0.2, -0.8,
    0.75, -0.1,
    1.7, 1.1, 0.4, 0.2, 1.4, 0.6, 0.3, 0.5, 1.6, 0.8,
    0.2, 0.9, 0.4, 1.55, 0.5, 0.7, 0.3, 0.4, 1.5, 1.95,
    0.2, 0.6, 0.5, 0.3, 0.2, 0.5, 0.4, 0.3, 0.1, 0.2,
    0.2, 0.1, 0.5, 0.4,
    0.1, 0.2, 0.15, 0.05, 0.2, 0.15, 0.1, 0.2, 2.0, 0.15,
    0.6, 0.4, 0.2, 0.5, 0.1, 1.5, 0.3, 0.0, 1.3, -0.2,
    0.2, 0.1, 0.4, 0.0, 1.2, 0.2, 1.0, 0.1, 0.3, 0.0,
    0.2, 0.5, 0.1, 0.0, 0.3, 0.2, 0.1, 1.3, 0.4, 1.4,
    0.2, -0.35, 0.1, 0.7, 0.3, 0.0, 0.5, 2.0, 0.2, 0.4,
    0.1, 1.05, 0.3, 0.2, 0.4, 0.1, 0.0, 0.1, 0.0, 0.1,
    0.0, 0.3, 0.6, 0.4, 0.9, 0.2, 0.5, 0.3,
    0.1, 0.0, 0.2, 0.05, 0.1,
]
t_b_core = [
    1.6, 1.85, 2.1, 2.35, 2.6, 2.85, 3.1, 3.35, 3.6, 3.85,
    4.1, 4.4, 4.6, 4.85, 5.0, 5.3, 5.6, 5.85, 6.1, 6.35,
    6.55, 6.8, 7.05,
    10.8, 11.1, 11.5, 11.9, 12.3, 12.6, 13.0, 13.3, 13.7, 14.2,
    15.1, 15.4, 15.8, 16.2, 16.5, 16.8, 17.1, 17.4, 17.8, 18.1,
    18.5, 18.8, 19.1, 19.5, 19.9,
    27.7, 28.0, 28.3, 28.6, 29.0, 29.3, 29.6, 29.9, 30.2, 30.5,
    30.8, 31.1, 31.4, 31.7, 32.0, 32.3, 32.6, 32.9, 33.2, 33.5,
    33.8, 34.1, 34.4, 34.7, 35.0, 35.3, 35.6, 35.9, 36.2, 36.5,
    36.8, 37.1, 37.4, 37.7, 38.0, 38.3, 38.6, 38.9,
    39.8, 40.2, 40.5, 40.9, 41.2, 41.6, 41.9, 42.3, 42.6, 43.0,
    43.3, 43.7, 44.0, 44.4, 44.7, 45.1, 45.5, 45.9, 46.3, 46.6,
    47.4, 47.9, 48.4, 48.9, 49.4, 49.9, 50.4, 50.9, 51.4, 51.9,
    52.4, 52.9,
    54.8, 55.2, 55.6, 56.0, 56.4, 56.8, 57.2, 58.1, 58.5, 59.0,
    59.4, 60.0, 60.6, 61.2, 61.8,
    94.65, 94.85, 95.05, 95.25, 95.45, 95.65, 95.85, 96.05, 96.25, 96.45,
    96.65, 96.9, 97.1, 97.4, 97.7, 98.1,
    105.45, 105.65, 105.85, 106.05, 106.25, 106.45, 106.65, 106.85, 107.05, 107.25,
    107.45, 107.65, 107.85, 108.05, 108.25, 108.45, 108.65, 108.85, 109.05, 109.25,
    109.45, 109.7, 109.9, 110.1, 110.4, 110.7,
]
red_b_core = [
    -0.2, -0.35, -0.1, -0.3, -0.45, -0.2, -0.4, -0.55, -0.3, -0.6,
    -0.35, -0.5, -0.15, -0.3, -0.45, -0.2, -0.35, -0.1, -0.25, -0.05,
    -0.15, -0.05, -0.1,
    -0.1, -0.3, -0.2, -0.4, -0.15, -0.5, -0.25, -0.35, -0.1, -0.2,
    -0.1, -0.3, -0.2, -0.45, -0.6, -0.35, -0.55, -0.7, -0.4, -0.25,
    -0.5, -0.3, -0.15, -0.35, -0.2,
    -0.1, -0.3, -0.2, -0.45, -0.15, -0.35, -0.05, -0.25, -0.4, -0.1,
    -0.3, -0.2, -0.5, -0.1, -0.35, -0.15, -0.45, -0.25, -0.55, -0.1,
    -0.3, -0.2, -0.6, -0.15, -0.4, -0.7, -0.25, -0.35, -0.1, -0.3,
    -0.05, -0.2, -0.1, -0.25, -0.05, -0.15, -0.1, -0.05,
    -0.05, -0.2, -0.1, -0.3, -0.15, -0.05, -0.25, -0.1, -0.2, -0.05,
    -0.3, -0.15, -0.1, -0.25, -0.05, -0.2, -0.1, -0.15, -0.05, -0.2,
    -0.1, 0.0, -0.15, -0.05, 0.05, -0.1, 0.0, -0.2, -0.05, 0.05,
    -0.1, 0.0,
    0.1, -0.1, 0.2, 0.0, -0.15, 0.1, -0.05, 0.1, 0.0, 0.15,
    -0.05, 0.05, -0.1, 0.1, 0.0,
    0.5, 0.35, 0.6, 0.45, 0.3, 0.55, 0.4, 0.65, 0.35, 0.5,
    0.3, 0.45, 0.25, 0.4, 0.3, 0.2,
    0.3, 0.45, 0.2, 0.35, 0.1, 0.25, 0.4, 0.15, 0.3, 0.2,
    0.35, 0.25, 0.1, 0.3, 0.2, 0.4, 0.25, 0.35, 0.15, 0.3,
    0.25, 0.2, 0.3, 0.15, 0.1, 0.2,
]
blue_b_core = [
    -0.3, -0.45, -0.2, -0.4, -0.55, -0.3, -0.5, -0.65, -0.4, -0.7,
    -0.45, -0.6, -0.25, -0.4, -0.55, -0.3, -0.45, -0.2, -0.35, -0.15,
    -0.25, -0.15, -0.2,
    -0.2, -0.4, -0.3, -0.5, -0.25, -0.6, -0.35, -0.45, -0.2, -0.3,
    -0.2, -0.4, -0.3, -0.55, -0.7, -0.45, -0.65, -0.8, -0.5, -0.35,
    -0.6, -0.4, -0.25, -0.45, -0.3,
    -0.2, -0.4, -0.3, -0.55, -0.25, -0.45, -0.15, -0.35, -0.5, -0.2,
    -0.4, -0.3, -0.6, -0.2, -0.45, -0.25, -0.55, -0.35, -0.65, -0.2,
    -0.4, -0.3, -0.7, -0.25, -0.5, -0.8, -0.35, -0.45, -0.2, -0.4,
    -0.15, -0.3, -0.2, -0.35, -0.15, -0.25, -0.2, -0.15,
    -0.15, -0.3, -0.2, -0.4, -0.25, -0.15, -0.35, -0.2, -0.3, -0.15,
    -0.4, -0.25, -0.2, -0.35, -0.15, -0.3, -0.2, -0.25, -0.15, -0.3,
    -0.2, -0.1, -0.25, -0.15, -0.05, -0.2, -0.1, -0.3, -0.15, -0.05,
    -0.2, -0.1,
    0.0, -0.2, 0.1, -0.1, -0.25, 0.0, -0.15, 0.0, -0.1, 0.05,
    -0.15, -0.05, -0.2, 0.0, -0.1,
    0.4, 0.25, 0.5, 0.35, 0.2, 0.45, 0.3, 0.55, 0.25, 0.4,
    0.2, 0.35, 0.15, 0.3, 0.2, 0.1,
    0.2, 0.35, 0.1, 0.25, 0.0, 0.15, 0.3, 0.05, 0.2, 0.1,
    0.25, 0.15, 0.0, 0.2, 0.1, 0.3, 0.15, 0.25, 0.05, 0.2,
    0.15, 0.1, 0.2, 0.05, 0.0, 0.1,
]

t_c = [
    1.8, 2.0, 2.2, 2.3, 2.5, 2.7, 2.9, 3.0, 3.2, 3.4,
    3.6, 3.8, 4.0, 4.2, 4.4, 4.5, 4.6, 4.8, 5.0, 5.2,
    5.3, 5.5, 5.7, 5.9, 6.1, 6.3, 6.5, 6.9, 7.2, 7.5,
    9.7, 9.8, 10.0, 10.1, 10.3,
    10.9, 11.1, 11.3, 11.4, 11.6, 11.8, 11.9, 12.1, 12.3, 12.5,
    12.7, 12.9, 12.9, 13.1, 13.3, 13.5,
    14.0, 14.2, 14.4, 14.6, 14.8, 15.0, 15.2, 15.4, 15.6, 15.8,
    16.0, 16.2, 16.4, 16.7, 16.9, 17.1, 17.3, 17.6, 17.8, 18.0,
    18.2, 18.4, 18.6, 18.8, 19.0, 19.3, 19.5, 19.7, 19.9, 20.1,
    20.4, 21.0, 21.3, 21.5, 23.6,
    27.4, 27.5, 27.6, 27.8, 27.9, 28.1, 28.3, 28.5, 28.7, 28.9,
    29.1, 29.3, 29.5, 29.7, 29.9, 30.1, 30.3, 30.5, 30.7, 30.9,
    31.1, 31.3, 31.4, 31.6, 31.8, 32.0, 32.2, 32.4, 32.6, 32.8,
    33.0, 33.2, 33.4, 33.6, 33.8, 34.0, 34.2, 34.5, 34.7, 34.9,
    35.1, 35.3, 35.6, 35.8, 36.0, 36.2, 36.5, 36.9, 37.2, 37.5,
    37.8, 38.1, 38.4, 38.7, 39.0, 39.3, 39.6, 39.8, 40.1, 40.3,
    40.5, 40.8, 41.1, 41.4, 41.7, 42.0, 42.3, 42.6, 42.9, 43.2,
    43.5, 43.8, 44.0, 44.2, 44.6, 44.6, 44.9, 45.2, 45.3, 45.6,
    45.9, 46.2, 46.5, 46.8, 47.1, 47.5, 47.9, 48.3,
    48.6, 48.9, 49.2, 49.5, 49.8, 50.1, 50.4, 50.7, 51.0, 51.3,
    51.6, 51.9, 52.2, 52.5, 52.8, 53.1, 53.4, 54.4,
    54.6, 54.7, 55.0, 55.3, 55.6, 55.9, 56.2, 56.5, 56.8, 57.1,
    57.4, 57.7, 58.0, 58.3, 58.6, 58.9, 59.2, 59.5, 59.8, 60.1,
    60.8, 61.5, 61.9, 62.2, 62.5, 62.7,
    68.8, 69.1, 69.3, 69.5, 69.8, 70.1, 70.4, 70.7, 71.0, 71.2,
    71.4, 71.7, 72.0, 72.3, 72.6, 72.9, 73.2, 73.5, 73.8, 74.1,
    74.4, 74.7,
    76.4, 76.7, 77.0, 77.3, 77.6, 77.9,
    94.6, 94.7, 94.8, 94.9, 95.0, 95.1, 95.2, 95.3, 95.4, 95.5,
    95.6, 95.7, 95.8, 95.9, 96.0, 96.1, 96.2, 96.3, 96.4, 96.5,
    96.6, 96.7, 96.8, 97.0, 97.2, 97.5, 97.7, 98.0, 98.2, 95.8,
    102.0, 102.3, 102.6, 102.9, 103.2, 103.5, 103.8, 104.1, 104.4, 104.8,
    105.5, 105.6, 105.7, 105.8, 105.9, 106.0, 106.1, 106.2, 106.3, 106.4,
    106.5, 106.6, 106.7, 106.8, 106.9, 107.0, 107.1, 107.2, 107.4, 107.6,
    107.8, 108.0, 108.1, 108.3, 108.5, 108.7, 108.9, 109.0, 109.2, 109.3,
    109.5, 109.7, 109.9, 110.1, 110.3, 110.5, 110.7, 110.9, 111.1, 111.3,
    119.0, 119.2, 119.4, 119.5, 119.7, 119.9, 120.1, 120.3,
    122.5, 122.7, 122.9,
]
red_c = [
    -0.2, -0.4, -0.1, -0.3, -0.5, -0.2, -0.4, -0.1, -0.3, -0.6,
    -0.2, -0.4, -0.1, -0.3, -0.5, 2.1, -0.2, -0.1, -0.3, -1.45,
    -0.2, -0.4, -0.1, -0.3, -0.2, -0.1, -0.5, 0.6, -0.75, -0.2,
    -0.1, -0.2, -0.3, -0.2, -0.1,
    -0.75, -0.2, 0.45, -0.4, -0.1, 1.15, 1.4, -0.3, -0.2, -0.5,
    -0.1, 1.3, -0.4, -0.2, -0.3, 0.3,
    -0.1, -0.2, -0.3, -0.1, -0.4, -0.2, -0.5, -0.3, -0.85, -0.6,
    -0.3, -0.5, -0.2, 0.8, -0.4, -0.6, -0.3, -1.55, -0.8, -0.4,
    -0.2, -0.5, -0.3, -0.1, -0.4, 1.05, -1.0, -0.2, -0.1, -0.3,
    -0.2, -0.1, -0.2, 1.05, -0.25,
    -0.5, -0.9, -0.7, -0.1, -0.4, -0.2, -0.3, -0.1, -0.2, -0.4,
    -0.1, -0.3, -0.5, -0.2, -0.4, -0.1, -0.3, -0.6, -0.2, -0.4,
    -0.5, -0.3, 0.65, -0.1, -0.9, -0.4, -0.2, 1.05, -0.5, -0.3,
    -0.6, -0.2, -0.4, -0.1, 0.5, -0.3, -0.5, 2.0, -0.2, -0.8,
    -0.4, -0.1, -0.65, -0.3, -0.2, -0.5, -0.1, 2.0, -0.3, -0.1,
    0.0, -0.2, -0.1, -0.4, -0.2, -0.1, 0.6, -0.3, 1.95, -0.65,
    -0.2, -0.4, -0.1, -0.3, -0.2, -0.1, -0.3, -0.2, -0.4, -0.1,
    -0.3, -0.2, 2.1, -0.1, -1.1, -0.3, -0.2, -0.1, 1.75, -0.3,
    -0.2, -0.1, -0.2, -0.3, -0.1, -0.2, -0.1, -0.3,
    -0.1, -0.2, -0.1, 0.0, -0.2, -0.1, -0.3, -0.1, 0.0, -0.2,
    -0.1, -0.2, -0.1, 0.0, -0.1, -0.2, -0.1, -0.4,
    0.5, 0.3, -0.4, 0.05, 0.15, -0.35, 0.2, 0.2, 0.1, -0.1,
    0.3, 0.1, 0.3, 0.0, 0.1, 0.25, -0.2, 0.1, 0.0, 0.2,
    -0.6, -0.25, 0.55, 0.45, 0.0, 0.9,
    0.1, 0.6, 0.2, 0.05, 0.3, 0.1, -0.15, 0.15, 0.4, 0.7,
    0.9, 0.2, 0.3, 0.1, 0.05, 0.15, -0.2, 0.1, 0.35, 0.1,
    0.2, 0.15,
    0.2, 0.1, 0.3, 0.8, 0.0, -0.2,
    1.9, 1.2, 0.5, 0.3, 0.9, 1.75, 0.6, 0.4, 1.95, 0.7,
    0.3, 1.65, 0.5, 0.4, 0.6, 2.05, 0.8, 0.5, 1.0, 0.4,
    0.6, 0.3, 0.5, 0.3, 0.2, 0.3, 0.2, 0.1, 0.25, 0.35,
    0.2, 0.25, 0.1, 0.2, 0.25, 0.15, 0.2, 0.1, 0.15, 0.1,
    0.7, 0.5, 0.3, 0.6, 0.4, 1.6, 0.2, 0.7, 1.25, 0.3,
    0.1, 0.5, 0.2, 0.3, -0.2, 0.25, 0.1, 0.2, 0.3, 0.15,
    0.6, 1.55, 0.4, 0.2, -0.35, 0.3, 0.5, 2.1, 0.2, 0.4,
    0.1, 0.3, -0.05, 0.2, 0.35, 0.1, 0.2, 0.15, 0.1, 0.05,
    0.0, 0.3, 0.55, 0.5, 0.4, 0.3, 0.25, 0.3,
    0.1, 0.2, 0.15,
]
blue_c = [
    -0.3, -0.5, -0.2, -0.4, -0.6, -0.3, -0.5, -0.2, -0.4, -0.6,
    -0.3, -0.5, -0.2, -0.4, -0.55, 2.05, -0.3, -0.2, -0.4, -1.5,
    -0.3, -0.5, -0.2, -0.4, -0.3, -0.2, -0.5, 0.6, -0.8, -0.3,
    -0.2, -0.3, -0.35, -0.3, -0.2,
    -0.8, -0.3, 0.4, -0.5, -0.2, 1.1, 1.35, -0.4, -0.3, -0.9,
    -0.2, 1.2, -0.5, -0.3, -0.4, 0.25,
    -0.2, -0.3, -0.4, -0.2, -0.5, -0.3, -0.6, -0.4, -1.0, -0.7,
    -0.4, -0.6, -0.3, 0.75, -0.5, -0.7, -0.4, -1.6, -0.9, -0.5,
    -0.3, -0.6, -0.4, -0.2, -0.5, 1.0, -1.05, -0.3, -0.2, -0.4,
    -0.3, -0.2, -0.3, 1.05, -0.3,
    -0.6, -0.95, -0.8, -0.2, -0.5, -0.3, -0.4, -0.2, -0.3, -0.5,
    -0.2, -0.4, -0.6, -0.3, -0.5, -0.2, -0.4, -0.7, -0.3, -0.5,
    -0.6, -0.4, 0.65, -0.2, -0.9, -0.5, -0.3, 1.0, -0.6, -0.4,
    -0.7, -0.3, -0.5, -0.2, 0.4, -0.4, -0.6, 1.9, -0.3, -0.9,
    -0.5, -0.2, -1.0, -0.4, -0.3, -0.6, -0.2, 2.05, -0.4, -0.2,
    -0.1, -0.3, -0.2, -0.5, -0.3, -0.2, 0.6, -0.4, 1.95, -0.65,
    -0.3, -0.5, -0.2, -0.4, -0.3, -0.2, -0.4, -0.3, -0.5, -0.2,
    -0.4, -0.3, 2.05, -0.2, -1.3, -0.4, -0.3, -0.2, 1.7, -0.4,
    -0.3, -0.2, -0.3, -0.4, -0.2, -0.3, -0.2, -0.4,
    -0.2, -0.3, -0.2, -0.1, -0.3, -0.2, -0.4, -0.2, -0.1, -0.3,
    -0.2, -0.3, -0.2, -0.1, -0.2, -0.3, -0.2, -0.45,
    0.45, 0.25, -0.45, 0.0, 0.1, -0.4, 0.15, 0.15, 0.0, -0.2,
    0.25, 0.0, 0.25, -0.1, 0.0, 0.2, -0.25, 0.0, -0.1, 0.15,
    -0.6, -0.35, 0.5, 0.4, -0.1, 0.85,
    0.05, 0.55, 0.1, 0.0, 0.2, 0.05, -0.15, 0.1, 0.3, 0.65,
    0.9, 0.1, 0.2, 0.05, 0.0, 0.1, -0.2, 0.05, 0.3, 0.05,
    0.1, 0.1,
    0.15, 0.05, 0.2, 0.75, -0.1, -0.25,
    1.7, 1.1, 0.4, 0.2, 0.8, 1.6, 0.5, 0.3, 1.55, 0.6,
    0.2, 1.55, 0.4, 0.3, 0.5, 1.95, 0.7, 0.4, 0.9, 0.3,
    0.5, 0.2, 0.4, 0.25, 0.15, 0.25, 0.1, 0.05, 0.2, 0.3,
    0.15, 0.2, 0.05, 0.1, 0.2, 0.1, 0.15, 0.05, 0.1, 0.0,
    0.6, 0.4, 0.2, 0.5, 0.3, 1.5, 0.1, 0.65, 1.3, 0.2,
    0.0, 0.4, 0.1, 0.2, -0.25, 0.2, 0.05, 0.1, 0.2, 0.1,
    0.5, 1.4, 0.3, 0.1, -0.35, 0.2, 0.4, 2.0, 0.1, 0.3,
    0.0, 0.2, -0.1, 0.1, 0.3, 0.05, 0.1, 0.1, 0.05, 0.0,
    -0.1, 0.2, 0.5, 0.55, 0.35, 0.2, 0.2, 0.25,
    0.0, 0.1, 0.05,
]
t_c_core = [
    2.1, 2.4, 2.8, 3.1, 3.5, 3.9, 4.3, 4.7, 5.1, 5.6,
    6.0, 6.4,
    14.3, 14.7, 15.1, 15.5, 15.9, 16.3, 16.6, 17.0, 17.4, 17.9,
    18.3, 18.7, 19.1,
    27.8, 28.2, 28.6, 29.0, 29.4, 29.8, 30.2, 30.6, 31.0, 31.5,
    31.9, 32.3, 32.7, 33.1, 33.5, 33.9, 34.3, 34.8, 35.2, 35.7,
    36.1, 36.6, 37.1, 37.6, 38.2, 38.8, 39.5, 40.2,
    94.75, 94.95, 95.15, 95.35, 95.55, 95.75, 95.95, 96.15, 96.35, 96.55,
    105.6, 105.9, 106.2, 106.5, 106.8, 107.1, 107.5, 107.9, 108.3, 108.7,
    109.1, 109.5, 110.0,
]
red_c_core = [
    -0.3, -0.15, -0.4, -0.2, -0.35, -0.1, -0.25, -0.05, -0.2, -0.1,
    -0.05, -0.15,
    -0.05, -0.15, -0.1, -0.25, -0.4, -0.3, -0.5, -0.35, -0.2, -0.45,
    -0.15, -0.3, -0.1,
    -0.1, -0.25, -0.05, -0.3, -0.15, -0.4, -0.2, -0.05, -0.35, -0.15,
    -0.45, -0.1, -0.3, -0.2, -0.5, -0.1, -0.35, -0.25, -0.6, -0.15,
    -0.3, -0.05, -0.2, -0.1, -0.05, -0.15, -0.1, -0.05,
    0.5, 0.4, 0.6, 0.35, 0.45, 0.55, 0.3, 0.5, 0.4, 0.35,
    0.4, 0.25, 0.3, 0.15, 0.35, 0.2, 0.1, 0.25, 0.15, 0.2,
    0.1, 0.15, 0.05,
]
blue_c_core = [
    -0.4, -0.25, -0.5, -0.3, -0.45, -0.2, -0.35, -0.15, -0.3, -0.2,
    -0.15, -0.25,
    -0.15, -0.25, -0.2, -0.35, -0.5, -0.4, -0.6, -0.45, -0.3, -0.55,
    -0.25, -0.4, -0.2,
    -0.2, -0.35, -0.15, -0.4, -0.25, -0.5, -0.3, -0.15, -0.45, -0.25,
    -0.55, -0.2, -0.4, -0.3, -0.6, -0.2, -0.45, -0.35, -0.7, -0.25,
    -0.4, -0.15, -0.3, -0.2, -0.15, -0.25, -0.2, -0.15,
    0.4, 0.3, 0.5, 0.25, 0.35, 0.45, 0.2, 0.4, 0.3, 0.25,
    0.3, 0.15, 0.2, 0.05, 0.25, 0.1, 0.0, 0.15, 0.05, 0.1,
    0.0, 0.05, -0.05,
]

PANELS = [
    (t_a + t_a_core, red_a + red_a_core, blue_a + blue_a_core),
    (t_b + t_b_core, red_b + red_b_core, blue_b + blue_b_core),
    (t_c + t_c_core, red_c + red_c_core, blue_c + blue_c_core),
]


plt.style.use('classic')
plt.rcParams['figure.facecolor'] = 'white'
plt.rcParams['savefig.facecolor'] = 'white'

fig = plt.figure(figsize=(7.87, 6.84))
base = mdates.date2num(START)
boxes = [0.6974, 0.3933, 0.0877]

for i, (t, red, blue) in enumerate(PANELS):
    ax = fig.add_axes([0.0762, boxes[i], 0.8933, 0.2544])
    x = base + np.array(t)
    ax.plot(x, red, 'o', mfc='none', mec='r', ms=3.2, mew=0.9)
    ax.plot(x, blue, 'o', mfc='b', mec='b', ms=2.6, mew=0)
    ax.axhline(0, color='k', ls='-.', lw=1)
    ax.set_xlim(mdates.date2num(START), mdates.date2num(END))
    ax.set_ylim(-3, 3)
    ax.set_yticks(range(-3, 4))
    ax.xaxis_date()
    ax.xaxis.set_major_locator(mdates.DayLocator(bymonthday=[1, 15]))
    ax.xaxis.set_major_formatter(mdates.DateFormatter('%m/%d'))
    ax.tick_params(axis='x', pad=10)
    ax.tick_params(axis='y', pad=3)
    ax.grid(True)
    ax.set_ylabel(r'$\mu$mol m$^{-2}$ s$^{-1}$', fontsize=12)
    ax.yaxis.set_label_coords(-0.054, 0.5)
    ax.text(0, 1.005, TITLES[i], transform=ax.transAxes,
            ha='left', va='bottom', fontsize=12)
    if i < 2:
        ax.set_xticklabels([])

fig.text(0.511, 0.004, '2017', ha='center', va='baseline', fontsize=12)

fig.savefig('out.png', dpi=100)
